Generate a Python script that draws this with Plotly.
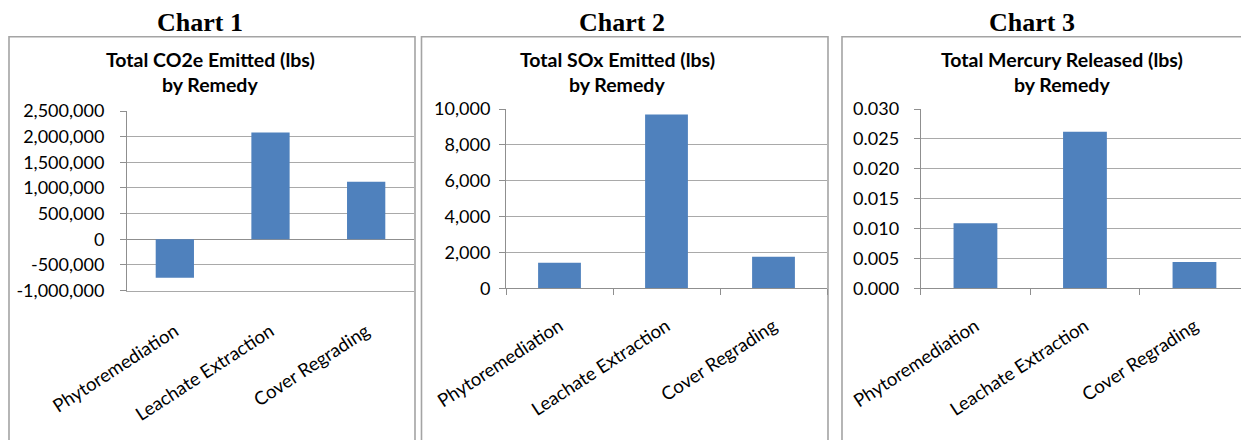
import plotly.graph_objects as go

W, H = 1241, 440

# ---- data -------------------------------------------------------------
categories = ["Phytoremediation", "Leachate Extraction", "Cover Regrading"]

co2e_lbs = [-750000, 2080000, 1120000]
sox_lbs = [1430, 9700, 1760]
mercury_lbs = [0.0109, 0.0262, 0.0044]

panel_headers = ["Chart 1", "Chart 2", "Chart 3"]
title_line1 = ["Total CO2e Emitted (lbs)", "Total SOx Emitted (lbs)", "Total Mercury Released (lbs)"]
title_line2 = ["by Remedy", "by Remedy", "by Remedy"]

co2e_ticks = [-1000000, -500000, 0, 500000, 1000000, 1500000, 2000000, 2500000]
sox_ticks = [0, 2000, 4000, 6000, 8000, 10000]
mercury_ticks = [0.000, 0.005, 0.010, 0.015, 0.020, 0.025, 0.030]

co2e_labels = [f"{v:,}" for v in co2e_ticks]
sox_labels = [f"{v:,}" for v in sox_ticks]
mercury_labels = [f"{v:.3f}" for v in mercury_ticks]

# ---- styling ------------------------------------------------------------
BAR = "#4F81BD"
GRID = "#a9a9a9"
AXIS = "#8f8f8f"
BOX = "#a4a4a4"
SANS = "Lato, 'Open Sans', sans-serif"
SERIF = "'Liberation Serif', 'Times New Roman', serif"
TICK_FONT = dict(family=SANS, size=18, color="black")
CAT_FONT = dict(family=SANS, size=18.5, color="black")
TITLE_SIZE = 19.5


def px(x):
    return x / W


def py(y):
    return 1 - y / H


panels = [
    dict(values=co2e_lbs, ticks=co2e_ticks, labels=co2e_labels,
         box=(9, 415), xdom=(127, 414), ydom=(111, 290.5),
         xrange=[-0.5, 2.5], header_x=200, title_x=210, standoff=12, cat_standoff=22),
    dict(values=sox_lbs, ticks=sox_ticks, labels=sox_labels,
         box=(421.5, 828), xdom=(506, 827), ydom=(109, 288.3),
         xrange=[-0.5, 2.5], header_x=622, title_x=617, standoff=5, cat_standoff=19),
    dict(values=mercury_lbs, ticks=mercury_ticks, labels=mercury_labels,
         box=(842, 1260), xdom=(920.7, 1241), ydom=(109, 288.3),
         xrange=[-0.5, 2.425], header_x=1032, title_x=1062, standoff=11, cat_standoff=19),
]

fig = go.Figure()
shapes = []
annotations = []

for i, p in enumerate(panels):
    n = "" if i == 0 else str(i + 1)
    fig.add_trace(go.Bar(
        x=categories, y=p["values"], width=0.4,
        marker=dict(color=BAR, line=dict(width=0)),
        xaxis="x" + n, yaxis="y" + n, showlegend=False,
    ))

    ymin, ymax = p["ticks"][0], p["ticks"][-1]
    negative = ymin < 0

    fig.layout["xaxis" + n] = dict(
        domain=[px(p["xdom"][0]), px(p["xdom"][1])],
        anchor="y" + n, type="category", categoryarray=categories,
        categoryorder="array", range=p["xrange"],
        tickangle=-33, tickfont=CAT_FONT, automargin=False,
        showline=True, linecolor=GRID if negative else AXIS, linewidth=1,
        ticks="" if negative else "outside", tickson="boundaries",
        ticklen=6, tickcolor=AXIS, showgrid=False,
        ticklabelstandoff=p["cat_standoff"],
    )
    fig.layout["yaxis" + n] = dict(
        domain=[py(p["ydom"][1]), py(p["ydom"][0])],
        anchor="x" + n, range=[ymin, ymax], automargin=False,
        tickvals=p["ticks"], ticktext=p["labels"], tickfont=TICK_FONT,
        showgrid=True, gridcolor=GRID, gridwidth=1,
        showline=True, linecolor=AXIS, linewidth=1,
        ticks="outside", ticklen=6, tickcolor=AXIS,
        zeroline=negative, zerolinecolor=AXIS, zerolinewidth=1,
        ticklabelstandoff=p["standoff"],
    )

    # panel frame
    shapes.append(dict(type="rect", xref="paper", yref="paper",
                       x0=px(p["box"][0]), x1=px(p["box"][1]),
                       y0=py(460), y1=py(36.8),
                       line=dict(color=BOX, width=1.6), layer="below"))

    annotations.append(dict(text="<b>%s</b>" % panel_headers[i], xref="paper", yref="paper",
                            x=px(p["header_x"]), y=py(22), showarrow=False,
                            xanchor="center", yanchor="middle",
                            font=dict(family=SERIF, size=26, color="black")))
    annotations.append(dict(text="<b>%s</b>" % title_line1[i], xref="paper", yref="paper",
                            x=px(p["title_x"]), y=py(60), showarrow=False,
                            xanchor="center", yanchor="middle",
                            font=dict(family=SANS, size=TITLE_SIZE, color="black")))
    annotations.append(dict(text="<b>%s</b>" % title_line2[i], xref="paper", yref="paper",
                            x=px(p["title_x"]), y=py(85), showarrow=False,
                            xanchor="center", yanchor="middle",
                            font=dict(family=SANS, size=TITLE_SIZE, color="black")))

# tick marks along the zero line of the first panel (its labels sit at the bottom)
p0 = panels[0]
zero_px = p0["ydom"][1] - (0 - p0["ticks"][0]) / (p0["ticks"][-1] - p0["ticks"][0]) * (p0["ydom"][1] - p0["ydom"][0])
fig.layout["xaxis4"] = dict(
    overlaying="x", anchor="free", position=py(zero_px), side="bottom",
    range=[-0.5, 2.5], tickvals=[0.5, 1.5], ticks="outside", ticklen=6,
    tickcolor=AXIS, showticklabels=False, showline=False, showgrid=False,
    zeroline=False, automargin=False,
)

fig.update_layout(
    width=W, height=H, margin=dict(l=0, r=0, t=0, b=0, autoexpand=False),
    paper_bgcolor="white", plot_bgcolor="white",
    shapes=shapes, annotations=annotations, bargap=0.6,
)

fig.write_html("out.html")
